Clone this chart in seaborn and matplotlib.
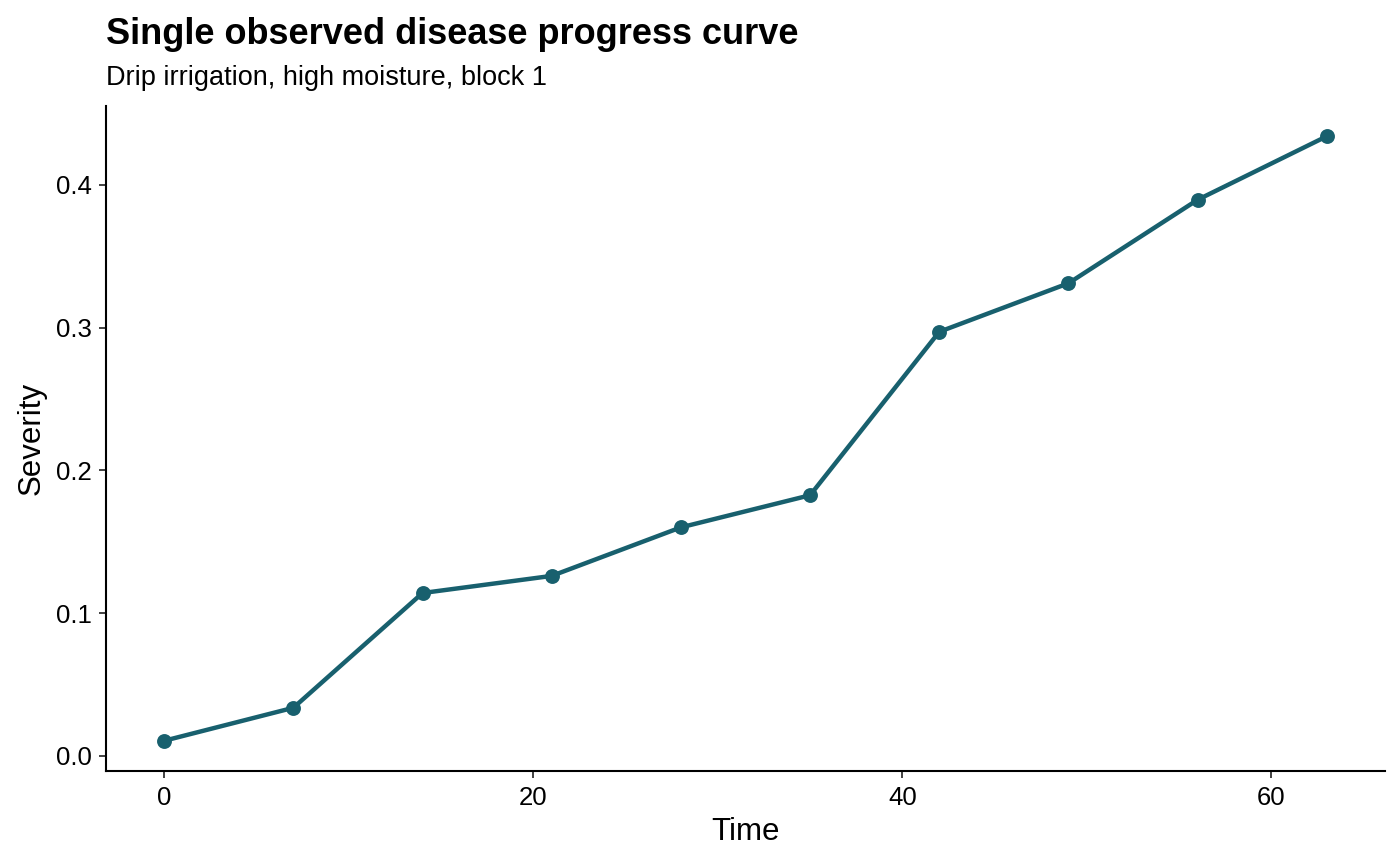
import matplotlib
matplotlib.use("Agg")
import matplotlib.pyplot as plt
import seaborn as sns
import pandas as pd

time = [0, 7, 14, 21, 28, 35, 42, 49, 56, 63]
severity = [0.0105, 0.0336, 0.114, 0.126, 0.160, 0.1825, 0.297, 0.331, 0.3895, 0.434]
xticks = [0, 20, 40, 60]
yticks = [0.0, 0.1, 0.2, 0.3, 0.4]
title = "Single observed disease progress curve"
subtitle = "Drip irrigation, high moisture, block 1"

sns.set_theme(style="ticks")
plt.rcParams['font.family'] = ['Liberation Sans', 'DejaVu Sans']
plt.rcParams['text.color'] = 'black'
plt.rcParams['axes.labelcolor'] = 'black'

df = pd.DataFrame({"Time": time, "Severity": severity})
color = "#18606E"

fig = plt.figure(figsize=(14, 8.65), dpi=100)
ax = fig.add_axes([106/1400, 1 - 771/865, (1385-106)/1400, (771-106)/865])
sns.lineplot(data=df, x="Time", y="Severity", color=color, linewidth=3.2, ax=ax)
sns.scatterplot(data=df, x="Time", y="Severity", color=color, s=115, edgecolor=color, linewidth=0, ax=ax, zorder=3)

span = max(time) - min(time)
ax.set_xlim(min(time) - 0.05*span, max(time) + 0.05*span)
yspan = max(severity) - min(severity)
ax.set_ylim(min(severity) - 0.05*yspan, max(severity) + 0.05*yspan)
ax.set_xticks(xticks)
ax.set_xticklabels([str(v) for v in xticks])
ax.set_yticks(yticks)
ax.set_yticklabels([f"{v:.1f}" for v in yticks])
for s in ["top", "right"]:
    ax.spines[s].set_visible(False)
for s in ["left", "bottom"]:
    ax.spines[s].set_linewidth(1.5)
    ax.spines[s].set_color("black")
ax.tick_params(axis="both", length=5, width=1.3, color="#333333", labelsize=18.5, labelcolor="black")
ax.tick_params(axis="x", pad=6)
ax.tick_params(axis="y", pad=5)
ax.set_xlabel("Time", fontsize=22.5, labelpad=5)
ax.set_ylabel("Severity", fontsize=22.5, labelpad=7)

fig.text(106/1400, 1 - 44/865, title, fontsize=26, fontweight="bold", ha="left", va="baseline")
fig.text(106/1400, 1 - 85/865, subtitle, fontsize=19.5, ha="left", va="baseline")

fig.savefig("out.png", dpi=100)
